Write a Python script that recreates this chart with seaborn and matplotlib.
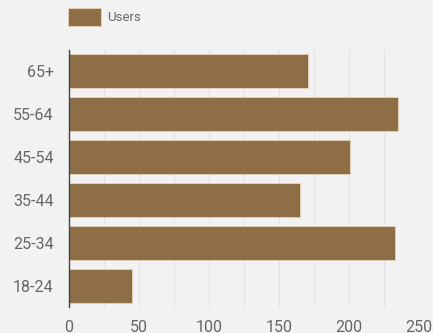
import matplotlib
matplotlib.use('Agg')
import matplotlib.pyplot as plt
import seaborn as sns
from matplotlib.ticker import MultipleLocator

# age groups, top to bottom as in the chart
ages = ['65+', '55-64', '45-54', '35-44', '25-34', '18-24']
users = [171, 235, 201, 165, 233, 45]
xticks = [0, 50, 100, 150, 200, 250]

sns.set_style('white')
plt.rcParams['font.family'] = ['Roboto', 'DejaVu Sans']

bg = '#f2f2f2'
bar_color = '#8e6e46'
text_color = '#666666'

fig = plt.figure(figsize=(4.33, 3.33), dpi=100, facecolor=bg)
ax = fig.add_axes([0.159, 0.078, 0.809, 0.772])
ax.set_facecolor(bg)

sns.barplot(x=users, y=ages, order=ages, color=bar_color, orient='h',
            width=0.79, saturation=1, edgecolor='#e9d2b8', linewidth=0.6,
            label='Users', ax=ax)
handles, labels = ax.get_legend_handles_labels()
if ax.get_legend() is not None:
    ax.get_legend().remove()

ax.set_xlim(0, 250)
ax.set_xticks(xticks)
ax.xaxis.set_minor_locator(MultipleLocator(25))
ax.grid(axis='x', which='both', color='#e2e2e2', linewidth=0.8)
ax.set_axisbelow(True)
ax.set_xlabel('')
ax.set_ylabel('')

for side in ['top', 'right', 'bottom']:
    ax.spines[side].set_visible(False)
ax.spines['left'].set_color('#444444')
ax.spines['left'].set_linewidth(1)

ax.tick_params(axis='both', which='both', length=0, labelsize=11.5, colors=text_color)
ax.tick_params(axis='y', pad=11)
ax.tick_params(axis='x', pad=9)

leg = fig.legend(handles, labels, loc='center left',
                 bbox_to_anchor=(68 / 433, 1 - 17 / 333),
                 frameon=False, fontsize=9.5, handlelength=2.5, handleheight=1.7,
                 handletextpad=0.5, borderaxespad=0, borderpad=0)
for t in leg.get_texts():
    t.set_color(text_color)

fig.savefig('out.png', dpi=100, facecolor=bg)
